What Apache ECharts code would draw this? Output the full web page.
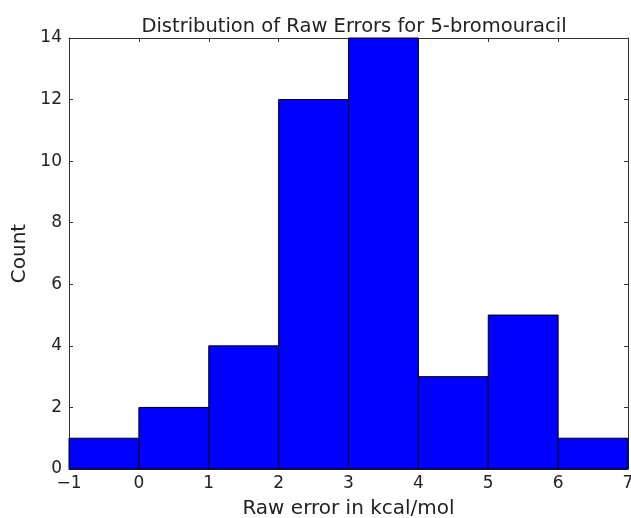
<!DOCTYPE html>
<html>
<head>
<meta charset="utf-8">
<script src="https://cdn.jsdelivr.net/npm/echarts@6/dist/echarts.min.js"></script>
<style>html,body{margin:0;padding:0;background:#fff}#c{width:631px;height:518px}</style>
</head>
<body>
<div id="c"></div>
<script>
var binStarts = [-1, 0, 1, 2, 3, 4, 5, 6];
var binWidth = 1;
var counts = [1, 2, 4, 12, 14, 3, 5, 1];
var xTicks = [-1, 0, 1, 2, 3, 4, 5, 6, 7];
var yTicks = [0, 2, 4, 6, 8, 10, 12, 14];
var titleText = 'Distribution of Raw Errors for 5-bromouracil';
var xLabel = 'Raw error in kcal/mol';
var yLabel = 'Count';

var data = binStarts.map(function (s, i) { return [s, s + binWidth, counts[i]]; });
var font = 'DejaVu Sans';
var chart = echarts.init(document.getElementById('c'), null, {renderer: 'canvas'});
var frame = {show: true, onZero: false, lineStyle: {color: '#333', width: 1}};
var tickIn = {show: true, inside: true, length: 4, lineStyle: {color: '#333'}};
chart.setOption({
  animation: false,
  title: {text: titleText, left: 349, top: 12, textAlign: 'center',
    textStyle: {fontFamily: font, fontSize: 19.5, fontWeight: 'normal', color: '#222'}},
  grid: {left: 69, right: 3, top: 38, bottom: 49, containLabel: false, outerBoundsMode: 'none'},
  xAxis: [
    {type: 'value', min: -1, max: 7, interval: 1, position: 'bottom',
     name: xLabel, nameLocation: 'middle', nameGap: 30,
     nameTextStyle: {fontFamily: font, fontSize: 20, color: '#222'},
     axisLine: frame, axisTick: tickIn, splitLine: {show: false},
     axisLabel: {fontFamily: font, fontSize: 17, color: '#222', margin: 6,
       formatter: function (v) { return v < 0 ? '\u2212' + Math.abs(v) : String(v); }}},
    {type: 'value', min: -1, max: 7, interval: 1, position: 'top',
     axisLine: frame, axisTick: tickIn, axisLabel: {show: false}, splitLine: {show: false}}
  ],
  yAxis: [
    {type: 'value', min: 0, max: 14, interval: 2, position: 'left',
     name: yLabel, nameLocation: 'middle', nameGap: 37,
     nameTextStyle: {fontFamily: font, fontSize: 20, color: '#222'},
     axisLine: frame, axisTick: tickIn, splitLine: {show: false},
     axisLabel: {fontFamily: font, fontSize: 17, color: '#222', margin: 7}},
    {type: 'value', min: 0, max: 14, interval: 2, position: 'right',
     axisLine: frame, axisTick: tickIn, axisLabel: {show: false}, splitLine: {show: false}}
  ],
  series: [{
    type: 'custom',
    xAxisIndex: 0, yAxisIndex: 0,
    data: data,
    encode: {x: [0, 1], y: 2},
    renderItem: function (params, api) {
      var p0 = api.coord([api.value(0), 0]);
      var p1 = api.coord([api.value(1), api.value(2)]);
      return {
        type: 'rect',
        shape: {x: p0[0], y: p1[1], width: p1[0] - p0[0], height: p0[1] - p1[1]},
        style: {fill: '#0000ff', stroke: '#000', lineWidth: 1}
      };
    }
  }]
});
</script>
</body>
</html>
